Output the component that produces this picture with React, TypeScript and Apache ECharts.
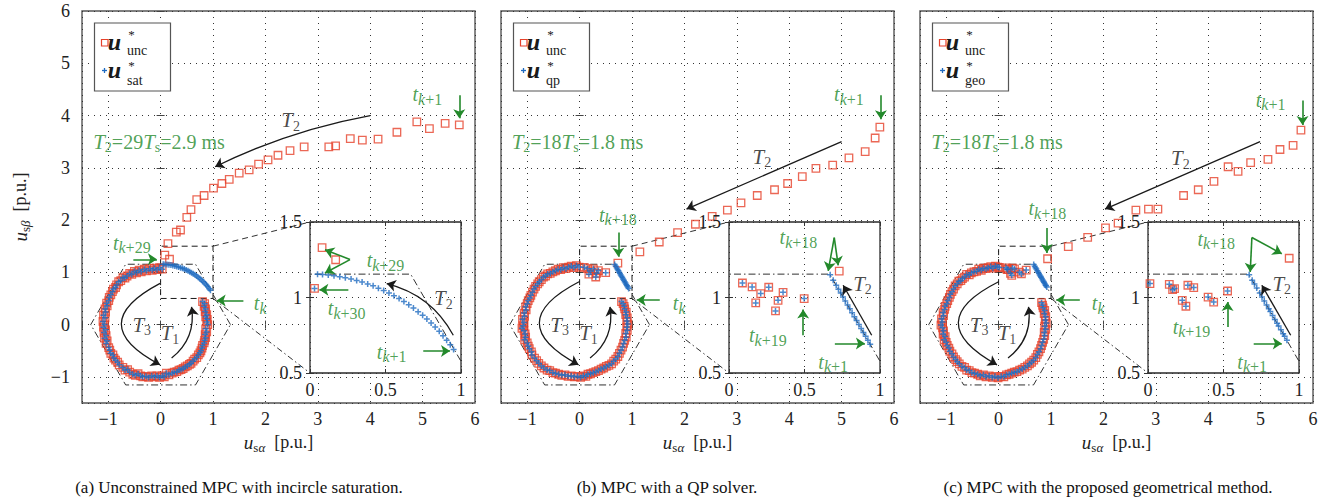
import React, { useEffect, useRef } from 'react';
import * as echarts from 'echarts';

type Pt = [number, number];

const RED = '#e6412b';
const BLUE = '#1f6bc1';
const GREEN = '#23892b';
const INK = '#1a1a1a';
const SERIF = 'Liberation Serif, DejaVu Serif, serif';

// ---- tick ranges ----
const mainMin = -1.5;
const mainMax = 6;
const insetXRange: Pt = [0, 1];
const insetYRange: Pt = [0.5, 1.5];

// ---- voltage hexagon (p.u.) and the zoomed window ----
const hexagon: Pt[] = [
  [1.3333, 0], [0.6667, 1.1547], [-0.6667, 1.1547], [-1.3333, 0],
  [-0.6667, -1.1547], [0.6667, -1.1547], [1.3333, 0],
];
const zoomBox: Pt[] = [[0, 0.5], [1, 0.5], [1, 1.5], [0, 1.5], [0, 0.5]];

// ---- steady-state rotation (unconstrained and constrained coincide) ----
const ringA: Pt[] = [
  [0.03, 1.06], [-0.02, 1.09], [-0.07, 1.05], [-0.12, 1.08], [-0.16, 1.04],
  [-0.21, 1.07], [-0.27, 1.03], [-0.31, 1.06], [-0.37, 1.01], [-0.41, 1.04],
  [-0.46, 0.99], [-0.50, 1.02], [-0.55, 0.96], [-0.59, 0.98],
  [-0.64, 0.93], [-0.68, 0.89], [-0.72, 0.90], [-0.76, 0.84], [-0.80, 0.82],
  [-0.84, 0.76], [-0.86, 0.71], [-0.90, 0.68], [-0.92, 0.63],
  [-0.95, 0.57], [-0.98, 0.52], [-0.99, 0.46], [-1.03, 0.41], [-1.02, 0.36],
  [-1.06, 0.30], [-1.05, 0.24], [-1.09, 0.18], [-1.06, 0.13],
  [-1.10, 0.06], [-1.07, 0.00], [-1.09, -0.05], [-1.05, -0.10], [-1.08, -0.15],
  [-1.04, -0.21], [-1.07, -0.26], [-1.02, -0.31], [-1.04, -0.36],
  [-0.99, -0.44], [-0.97, -0.49], [-0.95, -0.55], [-0.91, -0.58],
  [-0.89, -0.64], [-0.86, -0.68], [-0.82, -0.72], [-0.79, -0.77],
  [-0.72, -0.82], [-0.68, -0.87], [-0.63, -0.86], [-0.59, -0.91],
  [-0.53, -0.95], [-0.48, -0.97], [-0.43, -0.94], [-0.38, -0.98], [-0.34, -1.00],
  [-0.28, -0.99], [-0.23, -1.01], [-0.17, -0.98], [-0.12, -1.00], [-0.07, -0.98],
  [-0.02, -1.01], [0.03, -0.98], [0.07, -1.00], [0.11, -0.93], [0.16, -0.96],
  [0.22, -0.93], [0.26, -0.91], [0.31, -0.90], [0.35, -0.87], [0.39, -0.86],
  [0.43, -0.84], [0.47, -0.81], [0.51, -0.79], [0.55, -0.76], [0.58, -0.74],
  [0.62, -0.70], [0.65, -0.66], [0.69, -0.63], [0.72, -0.58], [0.75, -0.54],
  [0.77, -0.50], [0.79, -0.45], [0.80, -0.40], [0.83, -0.35], [0.84, -0.30],
  [0.86, -0.25], [0.85, -0.19], [0.88, -0.14], [0.86, -0.08],
  [0.90, 0.00], [0.88, 0.05], [0.89, 0.10], [0.86, 0.15], [0.88, 0.19],
  [0.85, 0.25], [0.86, 0.30], [0.83, 0.35], [0.84, 0.40], [0.80, 0.44],
];

const ringB: Pt[] = [
  [-0.01, 1.10], [-0.06, 1.13], [-0.11, 1.09], [-0.16, 1.12], [-0.21, 1.10],
  [-0.26, 1.07], [-0.31, 1.09], [-0.36, 1.05], [-0.41, 1.06], [-0.46, 1.03],
  [-0.51, 1.01], [-0.56, 0.98], [-0.61, 0.97], [-0.65, 0.93], [-0.69, 0.91],
  [-0.73, 0.86], [-0.77, 0.82], [-0.80, 0.78], [-0.84, 0.73],
  [-0.87, 0.68], [-0.90, 0.62], [-0.93, 0.56], [-0.95, 0.51], [-0.98, 0.46],
  [-1.00, 0.40], [-1.03, 0.34], [-1.02, 0.28], [-1.06, 0.22], [-1.05, 0.16],
  [-1.09, 0.10], [-1.06, 0.04], [-1.08, -0.02], [-1.10, -0.07], [-1.06, -0.12],
  [-1.04, -0.18], [-1.03, -0.24], [-1.05, -0.29], [-1.00, -0.35],
  [-0.98, -0.41], [-0.96, -0.46], [-0.92, -0.52], [-0.91, -0.58],
  [-0.86, -0.64], [-0.82, -0.69], [-0.78, -0.74], [-0.73, -0.79],
  [-0.68, -0.83], [-0.62, -0.87], [-0.57, -0.88], [-0.51, -0.92], [-0.46, -0.93],
  [-0.40, -0.95], [-0.34, -0.97], [-0.28, -0.96], [-0.22, -0.99], [-0.16, -0.98],
  [-0.10, -1.00], [-0.04, -0.99], [0.02, -1.01], [0.07, -0.98], [0.12, -0.99],
  [0.16, -0.95], [0.21, -0.94], [0.26, -0.92], [0.31, -0.90], [0.36, -0.88],
  [0.41, -0.85], [0.46, -0.83], [0.51, -0.80], [0.56, -0.78], [0.61, -0.75],
  [0.65, -0.70], [0.69, -0.66], [0.73, -0.61], [0.76, -0.55],
  [0.79, -0.49], [0.82, -0.43], [0.84, -0.36], [0.86, -0.30],
  [0.89, -0.24], [0.88, -0.17], [0.91, -0.11], [0.90, -0.05],
  [0.92, 0.01], [0.90, 0.07], [0.91, 0.13], [0.88, 0.19],
  [0.89, 0.24], [0.86, 0.30], [0.85, 0.35], [0.83, 0.40], [0.80, 0.44],
];

const ringC: Pt[] = [
  [-0.02, 1.10], [-0.06, 1.12], [-0.11, 1.08], [-0.15, 1.11], [-0.20, 1.09],
  [-0.24, 1.07], [-0.29, 1.08], [-0.33, 1.04], [-0.38, 1.06], [-0.42, 1.02],
  [-0.47, 1.01], [-0.52, 0.99], [-0.56, 0.95], [-0.61, 0.96], [-0.65, 0.91],
  [-0.69, 0.88], [-0.72, 0.84], [-0.76, 0.83], [-0.79, 0.78], [-0.83, 0.74],
  [-0.86, 0.68], [-0.89, 0.63], [-0.92, 0.58], [-0.94, 0.52],
  [-0.97, 0.46], [-0.99, 0.40], [-1.02, 0.35], [-1.03, 0.29], [-1.06, 0.23],
  [-1.05, 0.17], [-1.09, 0.11], [-1.07, 0.05], [-1.10, -0.01], [-1.07, -0.06],
  [-1.05, -0.12], [-1.06, -0.18], [-1.02, -0.23], [-1.04, -0.29],
  [-1.00, -0.34], [-0.98, -0.40], [-0.95, -0.45], [-0.93, -0.51],
  [-0.89, -0.56], [-0.86, -0.62], [-0.82, -0.67], [-0.79, -0.71], [-0.75, -0.75],
  [-0.70, -0.80], [-0.65, -0.82], [-0.61, -0.87], [-0.56, -0.88], [-0.51, -0.92],
  [-0.46, -0.93], [-0.40, -0.95], [-0.35, -0.98], [-0.29, -0.96], [-0.24, -1.00],
  [-0.18, -0.98], [-0.12, -1.01], [-0.07, -0.99], [-0.01, -1.02], [0.05, -0.99],
  [0.10, -1.00], [0.15, -0.96], [0.20, -0.95], [0.25, -0.93], [0.30, -0.91],
  [0.35, -0.90], [0.40, -0.87], [0.45, -0.85], [0.50, -0.82], [0.55, -0.79],
  [0.59, -0.75], [0.63, -0.72], [0.67, -0.68], [0.71, -0.63],
  [0.74, -0.57], [0.77, -0.52], [0.80, -0.46], [0.82, -0.40],
  [0.84, -0.34], [0.86, -0.28], [0.88, -0.21], [0.87, -0.15],
  [0.90, -0.09], [0.88, -0.03], [0.91, 0.03], [0.89, 0.09],
  [0.90, 0.15], [0.87, 0.21], [0.88, 0.27], [0.85, 0.32], [0.84, 0.37], [0.82, 0.42],
];

// ---- transient T2: unconstrained solution ----
const uncT2A: Pt[] = [
  [5.70, 3.82], [5.43, 3.85], [5.13, 3.75], [4.89, 3.88], [4.51, 3.68],
  [4.15, 3.55], [3.85, 3.53], [3.62, 3.56], [3.34, 3.42], [3.21, 3.40],
  [2.74, 3.40], [2.47, 3.33], [2.24, 3.24], [2.05, 3.15], [1.87, 3.07],
  [1.69, 2.96], [1.50, 2.90], [1.31, 2.78], [1.17, 2.70], [1.01, 2.61],
  [0.83, 2.47], [0.69, 2.39], [0.58, 2.20], [0.50, 2.05], [0.38, 1.81],
  [0.30, 1.77], [0.14, 1.55], [0.08, 1.33], [0.17, 1.25],
];
// incircle saturation of the same sequence
const satT2A: Pt[] = [
  [0.951, 0.656], [0.929, 0.687], [0.905, 0.717], [0.881, 0.747], [0.856, 0.776],
  [0.829, 0.804], [0.802, 0.831], [0.774, 0.857], [0.746, 0.882], [0.716, 0.906],
  [0.685, 0.930], [0.654, 0.952], [0.622, 0.973], [0.590, 0.993], [0.556, 1.012],
  [0.523, 1.030], [0.488, 1.047], [0.453, 1.062], [0.418, 1.077], [0.382, 1.090],
  [0.345, 1.102], [0.309, 1.113], [0.272, 1.123], [0.234, 1.131], [0.197, 1.138],
  [0.159, 1.144], [0.121, 1.149], [0.083, 1.152], [0.050, 1.154],
];

const uncT2B: Pt[] = [
  [5.73, 3.78], [5.64, 3.57], [5.45, 3.31], [5.14, 3.19], [4.83, 3.05],
  [4.51, 2.99], [4.25, 2.83], [3.97, 2.70], [3.72, 2.58], [3.39, 2.47],
  [3.08, 2.33], [2.82, 2.19], [2.53, 2.07], [2.21, 1.92], [1.87, 1.76],
  [1.52, 1.58], [1.15, 1.39], [0.73, 1.175],
];
// QP solution on the hexagon edge
const qpT2B: Pt[] = [
  [0.935, 0.691], [0.920, 0.717], [0.905, 0.743], [0.890, 0.769], [0.875, 0.795],
  [0.860, 0.821], [0.845, 0.847], [0.830, 0.873], [0.815, 0.899], [0.800, 0.925],
  [0.785, 0.951], [0.770, 0.977], [0.755, 1.003], [0.740, 1.029], [0.725, 1.055],
  [0.710, 1.081], [0.690, 1.115], [0.670, 1.150],
];

const uncT2C: Pt[] = [
  [5.77, 3.72], [5.62, 3.43], [5.37, 3.35], [5.14, 3.16], [4.81, 3.10],
  [4.57, 2.93], [4.38, 3.02], [4.11, 2.74], [3.81, 2.58], [3.53, 2.47],
  [3.04, 2.21], [2.86, 2.21], [2.62, 2.19], [2.28, 1.94], [2.04, 1.85],
  [1.70, 1.67], [1.33, 1.49], [0.935, 1.26],
];
// geometrical method on the hexagon edge
const geoT2C: Pt[] = [
  [0.920, 0.717], [0.905, 0.743], [0.895, 0.760], [0.880, 0.786], [0.865, 0.812],
  [0.855, 0.829], [0.840, 0.855], [0.825, 0.881], [0.810, 0.907], [0.800, 0.925],
  [0.785, 0.951], [0.770, 0.977], [0.755, 1.003], [0.740, 1.029], [0.720, 1.063],
  [0.705, 1.089], [0.690, 1.115], [0.670, 1.150],
];

// ---- return to the rotation after t_{k+19} ----
const recoverB: Pt[] = [
  [0.498, 0.993], [0.358, 1.034], [0.325, 0.981], [0.308, 0.911], [0.263, 1.068],
  [0.210, 1.026], [0.177, 0.964], [0.153, 1.070], [0.089, 1.096],
];
const recoverC: Pt[] = [
  [0.527, 1.043], [0.435, 0.970], [0.398, 1.003], [0.303, 1.066], [0.264, 1.081],
  [0.251, 0.942], [0.227, 0.981], [0.176, 1.059], [0.163, 1.052], [0.141, 1.087],
  [0.013, 1.092],
];

const legendNames = ['sat', 'qp', 'geo'];
const captions = [
  '(a) Unconstrained MPC with incircle saturation.',
  '(b) MPC with a QP solver.',
  '(c) MPC with the proposed geometrical method.',
];

// ---- layout (px) ----
const MAIN_LEFT = [82, 501, 920];
const TOP = 11;
const MAIN_W = 393;
const MAIN_H = 392;
const INSET_DX = 228;
const INSET_TOP = 222;
const INSET_SIZE = 151;
const CAPTION_X = [239, 667, 1108];
const CAPTION_Y = 487;
const Y_NAME_X = 20;

// ---- rich-text helpers ----
const tk = (s: string) => `{t|t}{si|k}${s ? `{sr|${s}}` : ''}`;
const Tsub = (n: string) => `{T|T}{st|${n}}`;
const timing = (n: string, ms: string) => `{T|T}{st|2}{n|=${n}}{T|T}{st|s}{n|=${ms} ms}`;

const RICH: any = {
  t: { fontFamily: SERIF, fontStyle: 'italic', fontSize: 20, lineHeight: 26 },
  T: { fontFamily: SERIF, fontStyle: 'italic', fontSize: 21, lineHeight: 26 },
  n: { fontFamily: SERIF, fontSize: 20, lineHeight: 26 },
  si: { fontFamily: SERIF, fontStyle: 'italic', fontSize: 16, lineHeight: 16, verticalAlign: 'bottom' },
  sr: { fontFamily: SERIF, fontSize: 16, lineHeight: 16, verticalAlign: 'bottom' },
  st: { fontFamily: SERIF, fontSize: 14, lineHeight: 14, verticalAlign: 'bottom' },
};

const AXIS_NAME_RICH: any = {
  u: { fontFamily: SERIF, fontStyle: 'italic', fontSize: 19, lineHeight: 24, color: '#222', fill: '#222' },
  s: { fontFamily: SERIF, fontSize: 13, lineHeight: 13, verticalAlign: 'bottom', color: '#222', fill: '#222' },
  g: { fontFamily: SERIF, fontStyle: 'italic', fontSize: 13, lineHeight: 13, verticalAlign: 'bottom', color: '#222', fill: '#222' },
  n: { fontFamily: SERIF, fontSize: 18, lineHeight: 24, color: '#222', fill: '#222' },
};

interface Arrow { from: Pt; to: Pt; bend?: number }
interface Note { at: Pt; text: string; color: string }
interface Panel {
  unc: Pt[];
  con: Pt[];
  mainNotes: Note[];
  insetNotes: Note[];
  mainBlack: Arrow[];
  mainGreen: Arrow[];
  insetBlack: Arrow[];
  insetGreen: Arrow[];
}

const PANELS: Panel[] = [
  {
    unc: [...uncT2A, ...ringA],
    con: [...satT2A, ...ringA],
    mainNotes: [
      { at: [-0.03, 3.50], text: timing('29', '2.9'), color: GREEN },
      { at: [5.09, 4.41], text: tk('+1'), color: GREEN },
      { at: [2.48, 3.91], text: Tsub('2'), color: INK },
      { at: [-0.55, 1.57], text: tk('+29'), color: GREEN },
      { at: [1.90, 0.41], text: tk(''), color: GREEN },
      { at: [-0.36, 0.0], text: Tsub('3'), color: INK },
      { at: [0.18, -0.17], text: Tsub('1'), color: INK },
    ],
    insetNotes: [
      { at: [0.50, 1.248], text: tk('+29'), color: GREEN },
      { at: [0.243, 0.928], text: tk('+30'), color: GREEN },
      { at: [0.883, 0.995], text: Tsub('2'), color: INK },
      { at: [0.541, 0.641], text: tk('+1'), color: GREEN },
    ],
    mainBlack: [
      { from: [4.0, 4.0], to: [1.04, 3.02], bend: -0.07 },
      { from: [-0.01, 0.79], to: [-0.01, -0.77], bend: -0.95 },
      { from: [0.21, -0.64], to: [0.59, 0.34], bend: -0.29 },
    ],
    mainGreen: [
      { from: [5.70, 4.39], to: [5.70, 3.95] },
      { from: [-0.52, 1.25], to: [-0.07, 1.25] },
      { from: [1.58, 0.46], to: [1.07, 0.46] },
    ],
    insetBlack: [{ from: [0.949, 0.75], to: [0.508, 1.092], bend: -0.22 }],
    insetGreen: [
      { from: [0.265, 1.251], to: [0.099, 1.317] },
      { from: [0.265, 1.251], to: [0.099, 1.162] },
      { from: [0.254, 1.052], to: [0.062, 1.052] },
      { from: [0.75, 0.646], to: [0.927, 0.646] },
    ],
  },
  {
    unc: [...uncT2B, ...recoverB, ...ringB],
    con: [...qpT2B, ...recoverB, ...ringB],
    mainNotes: [
      { at: [-0.04, 3.50], text: timing('18', '1.8'), color: GREEN },
      { at: [5.14, 4.41], text: tk('+1'), color: GREEN },
      { at: [3.48, 3.21], text: Tsub('2'), color: INK },
      { at: [0.73, 2.10], text: tk('+18'), color: GREEN },
      { at: [1.90, 0.41], text: tk(''), color: GREEN },
      { at: [-0.38, 0.0], text: Tsub('3'), color: INK },
      { at: [0.17, -0.17], text: Tsub('1'), color: INK },
    ],
    insetNotes: [
      { at: [0.46, 1.399], text: tk('+18'), color: GREEN },
      { at: [0.884, 1.092], text: Tsub('2'), color: INK },
      { at: [0.257, 0.75], text: tk('+19'), color: GREEN },
      { at: [0.69, 0.573], text: tk('+1'), color: GREEN },
    ],
    mainBlack: [
      { from: [5.0, 3.5], to: [2.04, 2.21] },
      { from: [-0.01, 0.82], to: [-0.02, -0.77], bend: -0.95 },
      { from: [0.2, -0.64], to: [0.58, 0.34], bend: -0.29 },
    ],
    mainGreen: [
      { from: [5.75, 4.39], to: [5.75, 3.93] },
      { from: [0.74, 1.76], to: [0.74, 1.30] },
      { from: [1.53, 0.47], to: [1.09, 0.47] },
    ],
    insetBlack: [{ from: [0.945, 0.75], to: [0.756, 1.081] }],
    insetGreen: [
      { from: [0.697, 1.397], to: [0.657, 1.176] },
      { from: [0.697, 1.397], to: [0.723, 1.213] },
      { from: [0.701, 0.695], to: [0.90, 0.695] },
      { from: [0.491, 0.75], to: [0.491, 0.92] },
    ],
  },
  {
    unc: [...uncT2C, ...recoverC, ...ringC],
    con: [...geoT2C, ...recoverC, ...ringC],
    mainNotes: [
      { at: [-0.03, 3.50], text: timing('18', '1.8'), color: GREEN },
      { at: [5.19, 4.30], text: tk('+1'), color: GREEN },
      { at: [3.47, 3.18], text: Tsub('2'), color: INK },
      { at: [0.93, 2.23], text: tk('+18'), color: GREEN },
      { at: [1.90, 0.41], text: tk(''), color: GREEN },
      { at: [-0.37, 0.0], text: Tsub('3'), color: INK },
      { at: [0.16, -0.17], text: Tsub('1'), color: INK },
    ],
    insetNotes: [
      { at: [0.452, 1.39], text: tk('+18'), color: GREEN },
      { at: [0.886, 1.092], text: Tsub('2'), color: INK },
      { at: [0.288, 0.806], text: tk('+19'), color: GREEN },
      { at: [0.69, 0.573], text: tk('+1'), color: GREEN },
    ],
    mainBlack: [
      { from: [4.99, 3.5], to: [2.03, 2.21] },
      { from: [0.0, 0.82], to: [-0.03, -0.77], bend: -0.95 },
      { from: [0.18, -0.64], to: [0.57, 0.34], bend: -0.29 },
    ],
    mainGreen: [
      { from: [5.80, 4.29], to: [5.80, 3.82] },
      { from: [0.92, 1.85], to: [0.92, 1.37] },
      { from: [1.55, 0.47], to: [1.10, 0.47] },
    ],
    insetBlack: [{ from: [0.945, 0.75], to: [0.754, 1.081] }],
    insetGreen: [
      { from: [0.688, 1.397], to: [0.677, 1.169] },
      { from: [0.688, 1.397], to: [0.886, 1.29] },
      { from: [0.70, 0.695], to: [0.886, 0.695] },
      { from: [0.527, 0.805], to: [0.527, 0.97] },
    ],
  },
];

const intLabel = (v: number) =>
  Math.abs(v - Math.round(v)) < 1e-9 ? String(Math.round(v)).replace('-', '\u2212') : '';

const PLUS = 'path://M5,0L5,10M0,5L10,5';

function mainAxis(dim: 'x' | 'y', grid: number, primary: boolean, labels: boolean) {
  const ax: any = {
    type: 'value',
    gridIndex: grid,
    position: dim === 'x' ? (primary ? 'bottom' : 'top') : (primary ? 'left' : 'right'),
    min: mainMin,
    max: mainMax,
    minInterval: 1,
    maxInterval: 1,
    splitNumber: 8,
    axisLine: { show: false },
    axisTick: { show: true, inside: true, length: 4, lineStyle: { color: '#444', width: 1 } },
    axisLabel: labels
      ? { show: true, margin: dim === 'x' ? 7 : 12, fontFamily: SERIF, fontSize: 18, color: '#222', formatter: intLabel }
      : { show: false },
    splitLine: primary
      ? { show: true, lineStyle: { color: '#333', width: 1, type: [1, 5] } }
      : { show: false },
  };
  return ax;
}

function insetAxis(dim: 'x' | 'y', grid: number, primary: boolean) {
  const r = dim === 'x' ? insetXRange : insetYRange;
  return {
    type: 'value',
    gridIndex: grid,
    position: dim === 'x' ? (primary ? 'bottom' : 'top') : (primary ? 'left' : 'right'),
    min: r[0],
    max: r[1],
    interval: 0.5,
    z: 6,
    axisLine: { show: false },
    axisTick: { show: true, inside: true, length: 4, lineStyle: { color: '#333', width: 1 } },
    axisLabel: primary
      ? { show: true, margin: 8, fontFamily: SERIF, fontSize: 18, color: '#222', formatter: (v: number) => String(v) }
      : { show: false },
    splitLine: primary ? { show: true, lineStyle: { color: '#333', width: 1, type: [1, 5] } } : { show: false },
  };
}

function pointSeries(xi: number, yi: number, unc: Pt[], con: Pt[], z: number) {
  return [
    {
      type: 'scatter', xAxisIndex: xi, yAxisIndex: yi, data: unc, z, silent: true, clip: true,
      symbol: 'rect', symbolSize: 7.5,
      itemStyle: { color: 'rgba(0,0,0,0)', borderColor: RED, borderWidth: 1.3 },
    },
    {
      type: 'scatter', xAxisIndex: xi, yAxisIndex: yi, data: con, z: z + 0.5, silent: true, clip: true,
      symbol: PLUS, symbolSize: 6,
      itemStyle: { color: 'rgba(0,0,0,0)', borderColor: BLUE, borderWidth: 1.5 },
    },
  ];
}

function arrowSeries(xi: number, yi: number, arrows: Arrow[], color: string, width: number, z: number) {
  return {
    type: 'lines', coordinateSystem: 'cartesian2d', xAxisIndex: xi, yAxisIndex: yi, z, silent: true,
    symbol: ['none', 'arrow'], symbolSize: 9,
    lineStyle: { color, width, opacity: 1 },
    data: arrows.map((a) => ({ coords: [a.from, a.to], lineStyle: { curveness: a.bend || 0 } })),
  };
}

function noteSeries(xi: number, yi: number, notes: Note[], z: number) {
  return {
    type: 'scatter', xAxisIndex: xi, yAxisIndex: yi, z, silent: true, clip: false,
    symbolSize: 1, itemStyle: { color: 'rgba(0,0,0,0)' },
    label: { show: true, position: 'inside', rich: RICH },
    data: notes.map((n) => ({
      value: n.at,
      label: { formatter: n.text, color: n.color },
    })),
  };
}

function legendGraphic(L: number, name: string) {
  const txt = (text: string, x: number, y: number, font: string, align = 'center') => ({
    type: 'text', x, y, z: 21, silent: true,
    style: { text, font, fill: INK, align, verticalAlign: 'middle', textAlign: align, textVerticalAlign: 'middle' },
  });
  const t = TOP;
  return [
    { type: 'rect', z: 20, silent: true, shape: { x: L + 12.5, y: t + 12, width: 76, height: 68 }, style: { fill: '#fff', stroke: '#555', lineWidth: 1.2 } },
    { type: 'rect', z: 21, silent: true, shape: { x: L + 19.5, y: t + 28.5, width: 6.5, height: 6.5 }, style: { fill: 'none', stroke: RED, lineWidth: 1.2 } },
    { type: 'line', z: 21, silent: true, shape: { x1: L + 20, y1: t + 59.5, x2: L + 25, y2: t + 59.5 }, style: { stroke: BLUE, lineWidth: 1.3 } },
    { type: 'line', z: 21, silent: true, shape: { x1: L + 22.5, y1: t + 57, x2: L + 22.5, y2: t + 62 }, style: { stroke: BLUE, lineWidth: 1.3 } },
    txt('u', L + 32.5, t + 31, `italic bold 24px ${SERIF}`),
    txt('*', L + 49.5, t + 23.5, `13px ${SERIF}`),
    txt('unc', L + 45, t + 39, `14px ${SERIF}`, 'left'),
    txt('u', L + 32.5, t + 59, `italic bold 24px ${SERIF}`),
    txt('*', L + 49.5, t + 54, `13px ${SERIF}`),
    txt(name, L + 45, t + 69, `14px ${SERIF}`, 'left'),
  ];
}

function buildOption() {
  const grid: any[] = [];
  const xAxis: any[] = [];
  const yAxis: any[] = [];
  const series: any[] = [];
  const graphic: any[] = [];

  // main-axis coordinates of the inset's left corners, for the connector lines
  const cx = mainMin + (INSET_DX / MAIN_W) * (mainMax - mainMin);
  const cyTop = mainMax - ((INSET_TOP - TOP) / MAIN_H) * (mainMax - mainMin);
  const cyBot = mainMax - ((INSET_TOP + INSET_SIZE - TOP) / MAIN_H) * (mainMax - mainMin);

  PANELS.forEach((p, i) => {
    const L = MAIN_LEFT[i];
    const gm = grid.length;
    grid.push({ left: L, top: TOP, width: MAIN_W, height: MAIN_H, show: true, borderColor: '#555', borderWidth: 1.4, backgroundColor: 'rgba(0,0,0,0)', z: 0 });
    const gi = grid.length;
    grid.push({ left: L + INSET_DX, top: INSET_TOP, width: INSET_SIZE, height: INSET_SIZE, show: true, borderColor: '#2a2a2a', borderWidth: 1.3, backgroundColor: '#fff', z: 5 });

    const xm = xAxis.length;
    const xAx = mainAxis('x', gm, true, true);
    xAx.name = '{u|u}{s|s}{g|α}{n|  [p.u.]}';
    xAx.nameLocation = 'middle';
    xAx.nameGap = 25;
    xAx.nameTextStyle = { rich: AXIS_NAME_RICH };
    xAxis.push(xAx, mainAxis('x', gm, false, false));
    const ym = yAxis.length;
    yAxis.push(mainAxis('y', gm, true, i === 0), mainAxis('y', gm, false, false));
    const xi = xAxis.length;
    xAxis.push(insetAxis('x', gi, true), insetAxis('x', gi, false));
    const yi = yAxis.length;
    yAxis.push(insetAxis('y', gi, true), insetAxis('y', gi, false));

    // main plot
    series.push({
      type: 'line', xAxisIndex: xm, yAxisIndex: ym, data: hexagon, symbol: 'none', silent: true, z: 2,
      lineStyle: { color: INK, width: 0.9, type: [7, 3, 1.5, 3] },
    });
    series.push({
      type: 'line', xAxisIndex: xm, yAxisIndex: ym, data: zoomBox, symbol: 'none', silent: true, z: 2,
      lineStyle: { color: INK, width: 1, type: [6, 4] },
    });
    series.push({
      type: 'lines', coordinateSystem: 'cartesian2d', xAxisIndex: xm, yAxisIndex: ym, z: 2, silent: true,
      symbol: 'none', lineStyle: { color: INK, width: 0.9, opacity: 1, type: [6, 4] },
      data: [
        { coords: [[1, 1.5], [cx, cyTop]] },
        { coords: [[1, 0.5], [cx, cyBot]], lineStyle: { type: [6, 3, 1.5, 3] } },
      ],
    });
    series.push(...pointSeries(xm, ym, p.unc, p.con, 3));
    series.push(arrowSeries(xm, ym, p.mainBlack, INK, 1.3, 4));
    series.push(arrowSeries(xm, ym, p.mainGreen, GREEN, 1.6, 4));
    series.push(noteSeries(xm, ym, p.mainNotes, 4));

    // inset
    series.push({
      type: 'line', xAxisIndex: xi, yAxisIndex: yi, data: hexagon, symbol: 'none', silent: true, z: 7,
      lineStyle: { color: INK, width: 0.9, type: [7, 3, 1.5, 3] },
    });
    series.push(...pointSeries(xi, yi, p.unc, p.con, 8));
    series.push(arrowSeries(xi, yi, p.insetBlack, INK, 1.3, 9));
    series.push(arrowSeries(xi, yi, p.insetGreen, GREEN, 1.6, 9));
    series.push(noteSeries(xi, yi, p.insetNotes, 10));

    graphic.push(...legendGraphic(L, legendNames[i]));
    graphic.push({
      type: 'text', x: CAPTION_X[i], y: CAPTION_Y, silent: true,
      style: { text: captions[i], font: `17px ${SERIF}`, fill: '#111', align: 'center', verticalAlign: 'middle', textAlign: 'center', textVerticalAlign: 'middle' },
    });
  });

  // shared vertical axis title, reading bottom to top beside panel (a)
  graphic.push({
    type: 'text', x: Y_NAME_X, y: TOP + MAIN_H / 2, rotation: Math.PI / 2, silent: true, z: 5,
    style: {
      text: '{u|u}{s|s}{g|β}{n|  [p.u.]}', rich: AXIS_NAME_RICH, fill: '#222',
      align: 'center', verticalAlign: 'middle', textAlign: 'center', textVerticalAlign: 'middle',
    },
  });

  return { animation: false, backgroundColor: '#fff', grid, xAxis, yAxis, series, graphic };
}

export default function App() {
  const ref = useRef<HTMLDivElement>(null);
  useEffect(() => {
    if (!ref.current) return;
    const chart = echarts.init(ref.current, undefined, { renderer: 'svg' });
    chart.setOption(buildOption() as any);
    return () => chart.dispose();
  }, []);
  return (
    <div
      ref={ref}
      style={{ position: 'fixed', left: 0, top: 0, width: 1343, height: 500, background: '#fff' }}
    />
  );
}
